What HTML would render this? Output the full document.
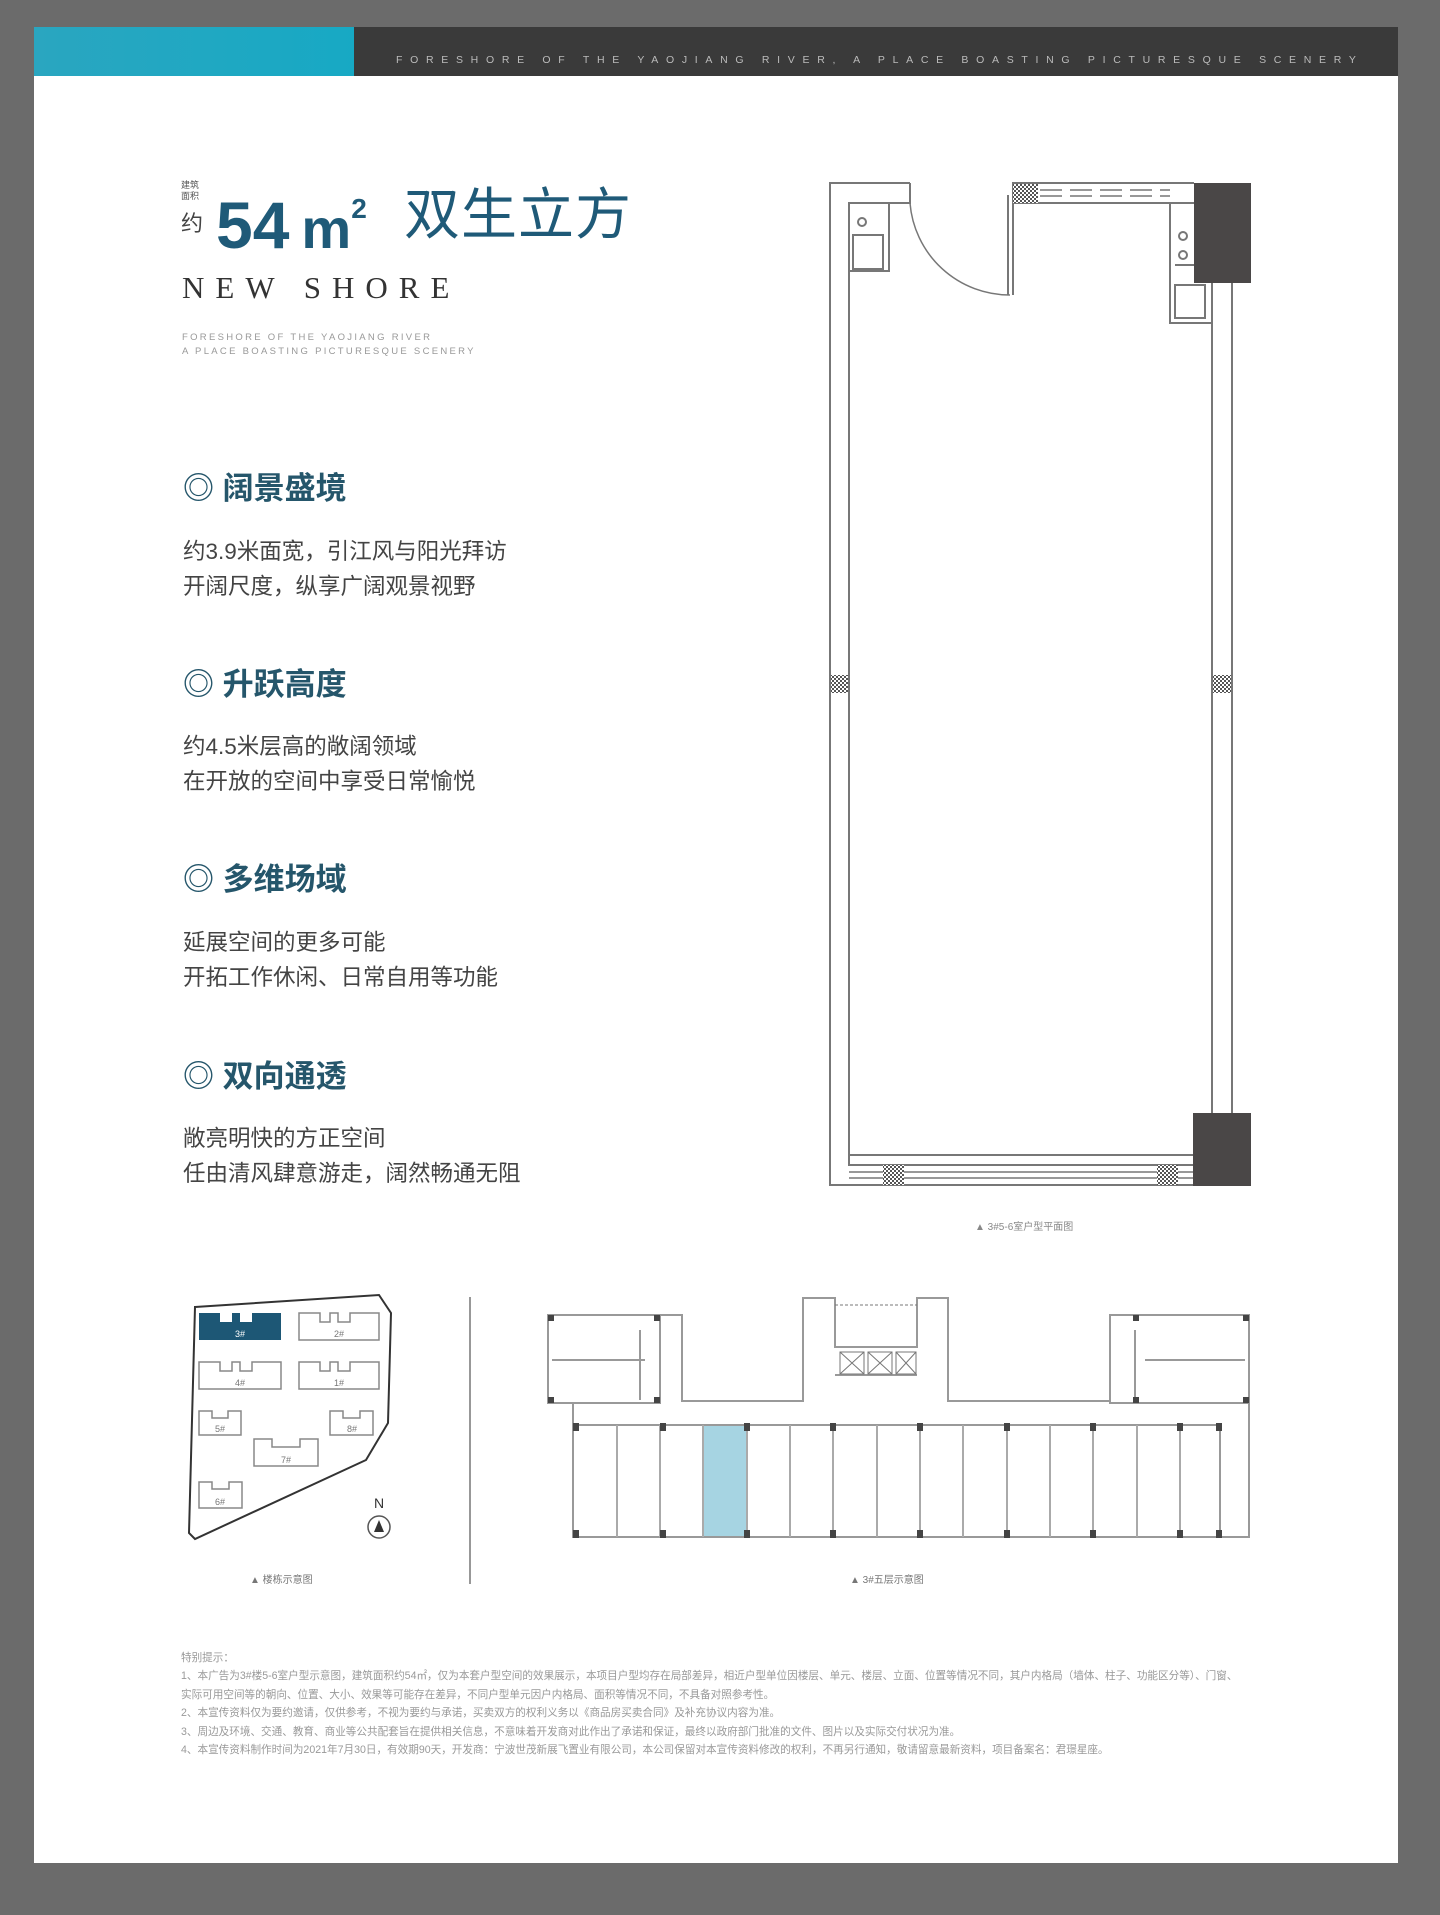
<!DOCTYPE html>
<html><head><meta charset="utf-8"><style>
*{margin:0;padding:0;box-sizing:border-box}
body{width:1440px;height:1915px;background:#6b6b6b;position:relative;overflow:hidden;font-family:"Liberation Sans","Noto Sans CJK SC",sans-serif}
.page{position:absolute;left:34px;top:27px;width:1364px;height:1836px;background:#fff}
.a{position:absolute;white-space:nowrap}
.h{color:#25566b;font-size:31px;font-weight:bold;left:183px}
.b{color:#444;font-size:22.5px;left:183px;line-height:35px}
.n{color:#999;font-size:10.6px;left:181px}
</style></head><body>
<div class="page"></div>
<div class="a" style="left:34px;top:27px;width:320px;height:49px;background:linear-gradient(90deg,#2aa6c0,#17a9c4)"></div>
<div class="a" style="left:354px;top:27px;width:1044px;height:49px;background:#3a3a3a"></div>
<div class="a" style="left:396px;top:54px;color:#bbb;font-size:10.5px;letter-spacing:7.7px">FORESHORE OF THE YAOJIANG RIVER, A PLACE BOASTING PICTURESQUE SCENERY</div>

<div class="a" style="left:181px;top:180px;color:#555;font-size:9px;line-height:11px">建筑<br>面积</div>
<div class="a" style="left:181px;top:206px;color:#444;font-size:22px">约</div>
<div class="a" style="left:216px;top:172px;color:#1f5a78;font-size:66px;font-weight:bold;line-height:74px">54<span style="font-size:56px;margin-left:12px">m</span><sup style="font-size:28px;vertical-align:30px">2</sup></div>
<div class="a" style="left:404px;top:176px;color:#1f5a78;font-size:56px;letter-spacing:1px;line-height:70px;font-family:'Noto Sans CJK SC',sans-serif">双生立方</div>
<div class="a" style="left:182px;top:270px;color:#333;font-size:31px;letter-spacing:11px;font-family:'Liberation Serif',serif">NEW SHORE</div>
<div class="a" style="left:182px;top:331px;color:#999;font-size:9.5px;letter-spacing:2.3px;line-height:14px">FORESHORE OF THE YAOJIANG RIVER<br>A PLACE BOASTING PICTURESQUE SCENERY</div>

<div class="a h" style="top:463px">◎ 阔景盛境</div>
<div class="a b" style="top:534px">约3.9米面宽，引江风与阳光拜访<br>开阔尺度，纵享广阔观景视野</div>
<div class="a h" style="top:659px">◎ 升跃高度</div>
<div class="a b" style="top:729px">约4.5米层高的敞阔领域<br>在开放的空间中享受日常愉悦</div>
<div class="a h" style="top:854px">◎ 多维场域</div>
<div class="a b" style="top:925px">延展空间的更多可能<br>开拓工作休闲、日常自用等功能</div>
<div class="a h" style="top:1051px">◎ 双向通透</div>
<div class="a b" style="top:1121px">敞亮明快的方正空间<br>任由清风肆意游走，阔然畅通无阻</div>

<svg class="a" style="left:0;top:0" width="1440" height="1915" viewBox="0 0 1440 1915">
<defs><pattern id="ht" width="4" height="4" patternUnits="userSpaceOnUse"><rect width="4" height="4" fill="#fff"/><rect width="2" height="2" fill="#555"/><rect x="2" y="2" width="2" height="2" fill="#555"/></pattern></defs>
<g fill="none" stroke="#777" stroke-width="2">
<path d="M910 183 H830 V1185 H1193"/>
<path d="M910 183 V203 H849 V1165 H1193"/>
<path d="M849 1155 H1193"/>
<path d="M849 1172 H1193 M849 1178 H1193" stroke-width="1.5"/>
<path d="M1013 295 V183 H1194 M1013 203 H1194"/>
<path d="M1008 295 V195" />
<path d="M910 203 A100 100 0 0 0 1010 295" stroke-width="1.5"/>
<path d="M1040 190 H1170 M1040 196 H1170" stroke-dasharray="22 8" stroke-width="1.5"/>
<path d="M1212 283 V1113 M1232 283 V1113"/>
<path d="M1170 203 V323 H1212 M1175 265 H1194 M1170 323 V283"/>
<rect x="1175" y="285" width="30" height="33"/>
<circle cx="1183" cy="236" r="4"/><circle cx="1183" cy="255" r="4"/>
<rect x="849" y="203" width="40" height="68"/>
<rect x="853" y="235" width="30" height="34"/>
<circle cx="862" cy="222" r="4"/>
</g>
<rect x="1013" y="184" width="25" height="19" fill="url(#ht)"/>
<rect x="1194" y="183" width="57" height="100" fill="#4a4747"/>
<rect x="1193" y="1113" width="58" height="73" fill="#4a4747"/>
<rect x="883" y="1165" width="21" height="20" fill="url(#ht)"/>
<rect x="1157" y="1165" width="21" height="20" fill="url(#ht)"/>
<rect x="831" y="675" width="17" height="18" fill="url(#ht)"/>
<rect x="1213" y="675" width="18" height="18" fill="url(#ht)"/>
<text x="975" y="1230" font-size="10" fill="#888" font-family="Liberation Sans,Noto Sans CJK SC,sans-serif">▲ 3#5-6室户型平面图</text>

<path d="M195 1307 L379 1295 L391 1313 L388 1423 L366 1460 L195 1539 L189 1533 Z" fill="none" stroke="#333" stroke-width="2"/>
<g fill="none" stroke="#888" stroke-width="1.5">
<path d="M299 1313 H320 V1322 H330 V1313 H338 V1322 H350 V1313 H379 V1340 H299 Z"/>
<path d="M199 1362 H220 V1371 H232 V1362 H240 V1371 H252 V1362 H281 V1389 H199 Z"/>
<path d="M299 1362 H320 V1371 H330 V1362 H338 V1371 H350 V1362 H379 V1389 H299 Z"/>
<path d="M199 1411 H212 V1418 H228 V1411 H241 V1435 H199 Z"/>
<path d="M330 1411 H343 V1418 H360 V1411 H373 V1435 H330 Z"/>
<path d="M254 1439 H272 V1447 H300 V1439 H318 V1466 H254 Z"/>
<path d="M199 1482 H212 V1489 H229 V1482 H242 V1508 H199 Z"/>
</g>
<path d="M199 1313 H220 V1322 H232 V1313 H240 V1322 H252 V1313 H281 V1340 H199 Z" fill="#1d5775"/>
<g font-size="9" fill="#777" font-family="Liberation Sans,sans-serif" text-anchor="middle">
<text x="240" y="1337" fill="#fff">3#</text><text x="339" y="1337">2#</text><text x="240" y="1386">4#</text><text x="339" y="1386">1#</text><text x="220" y="1432">5#</text><text x="352" y="1432">8#</text><text x="286" y="1463">7#</text><text x="220" y="1505">6#</text>
</g>
<text x="379" y="1508" font-size="14" fill="#333" text-anchor="middle" font-family="Liberation Sans,sans-serif">N</text>
<circle cx="379" cy="1527" r="11" fill="none" stroke="#555" stroke-width="1.5"/>
<path d="M374 1532 L379 1520 L384 1532 Z" fill="#333"/>
<line x1="470" y1="1297" x2="470" y2="1584" stroke="#777" stroke-width="1.5"/>
<text x="250" y="1583" font-size="10" fill="#777" font-family="Liberation Sans,Noto Sans CJK SC,sans-serif">▲ 楼栋示意图</text>
<text x="850" y="1583" font-size="10" fill="#777" font-family="Liberation Sans,Noto Sans CJK SC,sans-serif">▲ 3#五层示意图</text>

<rect x="703" y="1425" width="44" height="112" fill="#a6d4e2"/>
<g fill="none" stroke="#999" stroke-width="2">
<rect x="548" y="1315" width="112" height="88"/>
<rect x="1110" y="1315" width="139" height="88"/>
<path d="M660 1315 H682 V1401 H803 V1298 H835 V1347 H917 V1298 H948 V1401 H1110"/>
<path d="M573 1403 V1537 H1249 V1403"/>
<path d="M573 1425 H1220 V1537"/>
<path d="M552 1360 H645 M1145 1360 H1245 M835 1375 H917 M640 1330 V1400 M1135 1330 V1400"/>
</g>
<g stroke="#aaa" stroke-width="2">
<line x1="617" y1="1425" x2="617" y2="1537"/><line x1="660" y1="1425" x2="660" y2="1537"/><line x1="703" y1="1425" x2="703" y2="1537"/><line x1="747" y1="1425" x2="747" y2="1537"/><line x1="790" y1="1425" x2="790" y2="1537"/><line x1="833" y1="1425" x2="833" y2="1537"/><line x1="877" y1="1425" x2="877" y2="1537"/><line x1="920" y1="1425" x2="920" y2="1537"/><line x1="963" y1="1425" x2="963" y2="1537"/><line x1="1007" y1="1425" x2="1007" y2="1537"/><line x1="1050" y1="1425" x2="1050" y2="1537"/><line x1="1093" y1="1425" x2="1093" y2="1537"/><line x1="1137" y1="1425" x2="1137" y2="1537"/><line x1="1180" y1="1425" x2="1180" y2="1537"/>
</g>
<g fill="#444">
<rect x="573" y="1423" width="6" height="8"/><rect x="660" y="1423" width="6" height="8"/><rect x="744" y="1423" width="6" height="8"/><rect x="830" y="1423" width="6" height="8"/><rect x="917" y="1423" width="6" height="8"/><rect x="1004" y="1423" width="6" height="8"/><rect x="1090" y="1423" width="6" height="8"/><rect x="1177" y="1423" width="6" height="8"/><rect x="1216" y="1423" width="6" height="8"/>
<rect x="573" y="1530" width="6" height="8"/><rect x="660" y="1530" width="6" height="8"/><rect x="744" y="1530" width="6" height="8"/><rect x="830" y="1530" width="6" height="8"/><rect x="917" y="1530" width="6" height="8"/><rect x="1004" y="1530" width="6" height="8"/><rect x="1090" y="1530" width="6" height="8"/><rect x="1177" y="1530" width="6" height="8"/><rect x="1216" y="1530" width="6" height="8"/>
<rect x="548" y="1315" width="6" height="6"/><rect x="654" y="1315" width="6" height="6"/><rect x="548" y="1397" width="6" height="6"/><rect x="654" y="1397" width="6" height="6"/>
<rect x="1133" y="1315" width="6" height="6"/><rect x="1243" y="1315" width="6" height="6"/><rect x="1133" y="1397" width="6" height="6"/><rect x="1243" y="1397" width="6" height="6"/>
</g>
<g fill="none" stroke="#777" stroke-width="1"><rect x="840" y="1352" width="24" height="22"/><path d="M840 1352 L864 1374 M864 1352 L840 1374"/><rect x="868" y="1352" width="24" height="22"/><path d="M868 1352 L892 1374 M892 1352 L868 1374"/><rect x="896" y="1352" width="20" height="22"/><path d="M896 1352 L916 1374 M916 1352 L896 1374"/><path d="M835 1305 H917" stroke-dasharray="3 2"/></g>
</svg>

<div class="a n" style="top:1649px;line-height:18.4px">特别提示：<br>
1、本广告为3#楼5-6室户型示意图，建筑面积约54㎡，仅为本套户型空间的效果展示，本项目户型均存在局部差异，相近户型单位因楼层、单元、楼层、立面、位置等情况不同，其户内格局（墙体、柱子、功能区分等）、门窗、<br>
实际可用空间等的朝向、位置、大小、效果等可能存在差异，不同户型单元因户内格局、面积等情况不同，不具备对照参考性。<br>
2、本宣传资料仅为要约邀请，仅供参考，不视为要约与承诺，买卖双方的权利义务以《商品房买卖合同》及补充协议内容为准。<br>
3、周边及环境、交通、教育、商业等公共配套旨在提供相关信息，不意味着开发商对此作出了承诺和保证，最终以政府部门批准的文件、图片以及实际交付状况为准。<br>
4、本宣传资料制作时间为2021年7月30日，有效期90天，开发商：宁波世茂新展飞置业有限公司，本公司保留对本宣传资料修改的权利，不再另行通知，敬请留意最新资料，项目备案名：君璟星座。</div>
</body></html>
